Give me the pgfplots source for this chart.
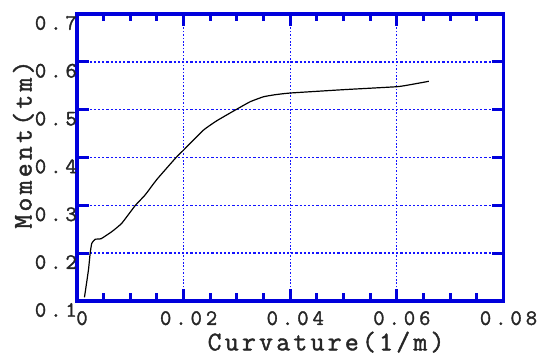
\documentclass[border=0pt]{standalone}
\usepackage{pgfplots}
\pgfplotsset{compat=1.18}
\usepackage{fontspec}
\newfontfamily\monofont[LetterSpace=18,FakeBold=1.5]{Latin Modern Mono}
\newfontfamily\labfont[LetterSpace=12,FakeBold=1.5]{Latin Modern Mono}
\definecolor{axblue}{RGB}{0,0,220}
\definecolor{gridblue}{RGB}{20,20,255}
\begin{document}
\begin{tikzpicture}
\begin{axis}[
  scale only axis,
  width=426.5bp, height=287bp,
  xmin=0, xmax=0.08, ymin=0.1, ymax=0.7,
  xtick={0,0.02,0.04,0.06,0.08},
  xticklabels={0,0.02,0.04,0.06,0.08},
  ytick={0.1,0.2,0.3,0.4,0.5,0.6,0.7},
  yticklabels={0.1,0.2,0.3,0.4,0.5,0.6,0.7},
  scaled ticks=false,
  minor x tick num=3,
  xmajorgrids, ymajorgrids,
  x grid style={gridblue, line width=1.1bp, dash pattern=on 1.6bp off 1.8bp},
  y grid style={gridblue, line width=1.4bp, dash pattern=on 2.2bp off 2.0bp},
  axis line style={axblue, line width=3.3bp},
  tick style={axblue, line width=3bp},
  major tick length=12bp,
  minor tick length=7.5bp,
  tick align=inside,
  xticklabel style={font=\fontsize{22bp}{26bp}\monofont, text=black!85, anchor=north, inner sep=0pt, xshift=5bp, yshift=-10bp},
  yticklabel style={font=\fontsize{22bp}{26bp}\monofont, text=black!85, anchor=east, inner sep=0pt, xshift=0bp, yshift=-9bp},
  xlabel={Curvature(1/m)},
  ylabel={Moment(tm)},
  xlabel style={font=\fontsize{27bp}{32bp}\labfont, text=black!85, at={(axis description cs:0.584,-0.172)}, anchor=base, inner sep=0pt},
  ylabel style={font=\fontsize{27bp}{32bp}\labfont, text=black!85, at={(axis description cs:-0.1008,0.545)}, anchor=south, inner sep=0pt},
  clip=false,
]
\addplot[black, line width=1.2bp, smooth, tension=0.25] coordinates {
(0.0014,0.1077)
(0.00215,0.165)
(0.00247,0.200)
(0.00277,0.2206)
(0.0034,0.229)
(0.00453,0.2303)
(0.00652,0.2449)
(0.00839,0.2624)
(0.0109,0.2993)
(0.01277,0.3216)
(0.0150,0.3544)
(0.01845,0.3983)
(0.0200,0.4157)
(0.02375,0.4575)
(0.02625,0.477)
(0.0297,0.4993)
(0.0325,0.5167)
(0.0350,0.527)
(0.0372,0.5313)
(0.0400,0.5348)
(0.0500,0.5418)
(0.0600,0.548)
(0.0625,0.5522)
(0.0660,0.5593)
};
\coordinate (ll) at (rel axis cs:0,0);
\coordinate (ur) at (rel axis cs:1,1);
\end{axis}
\pgfresetboundingbox
\path[use as bounding box] ([shift={(-77bp,-55bp)}]ll) rectangle ([shift={(35.5bp,14bp)}]ur);
\end{tikzpicture}
\end{document}
